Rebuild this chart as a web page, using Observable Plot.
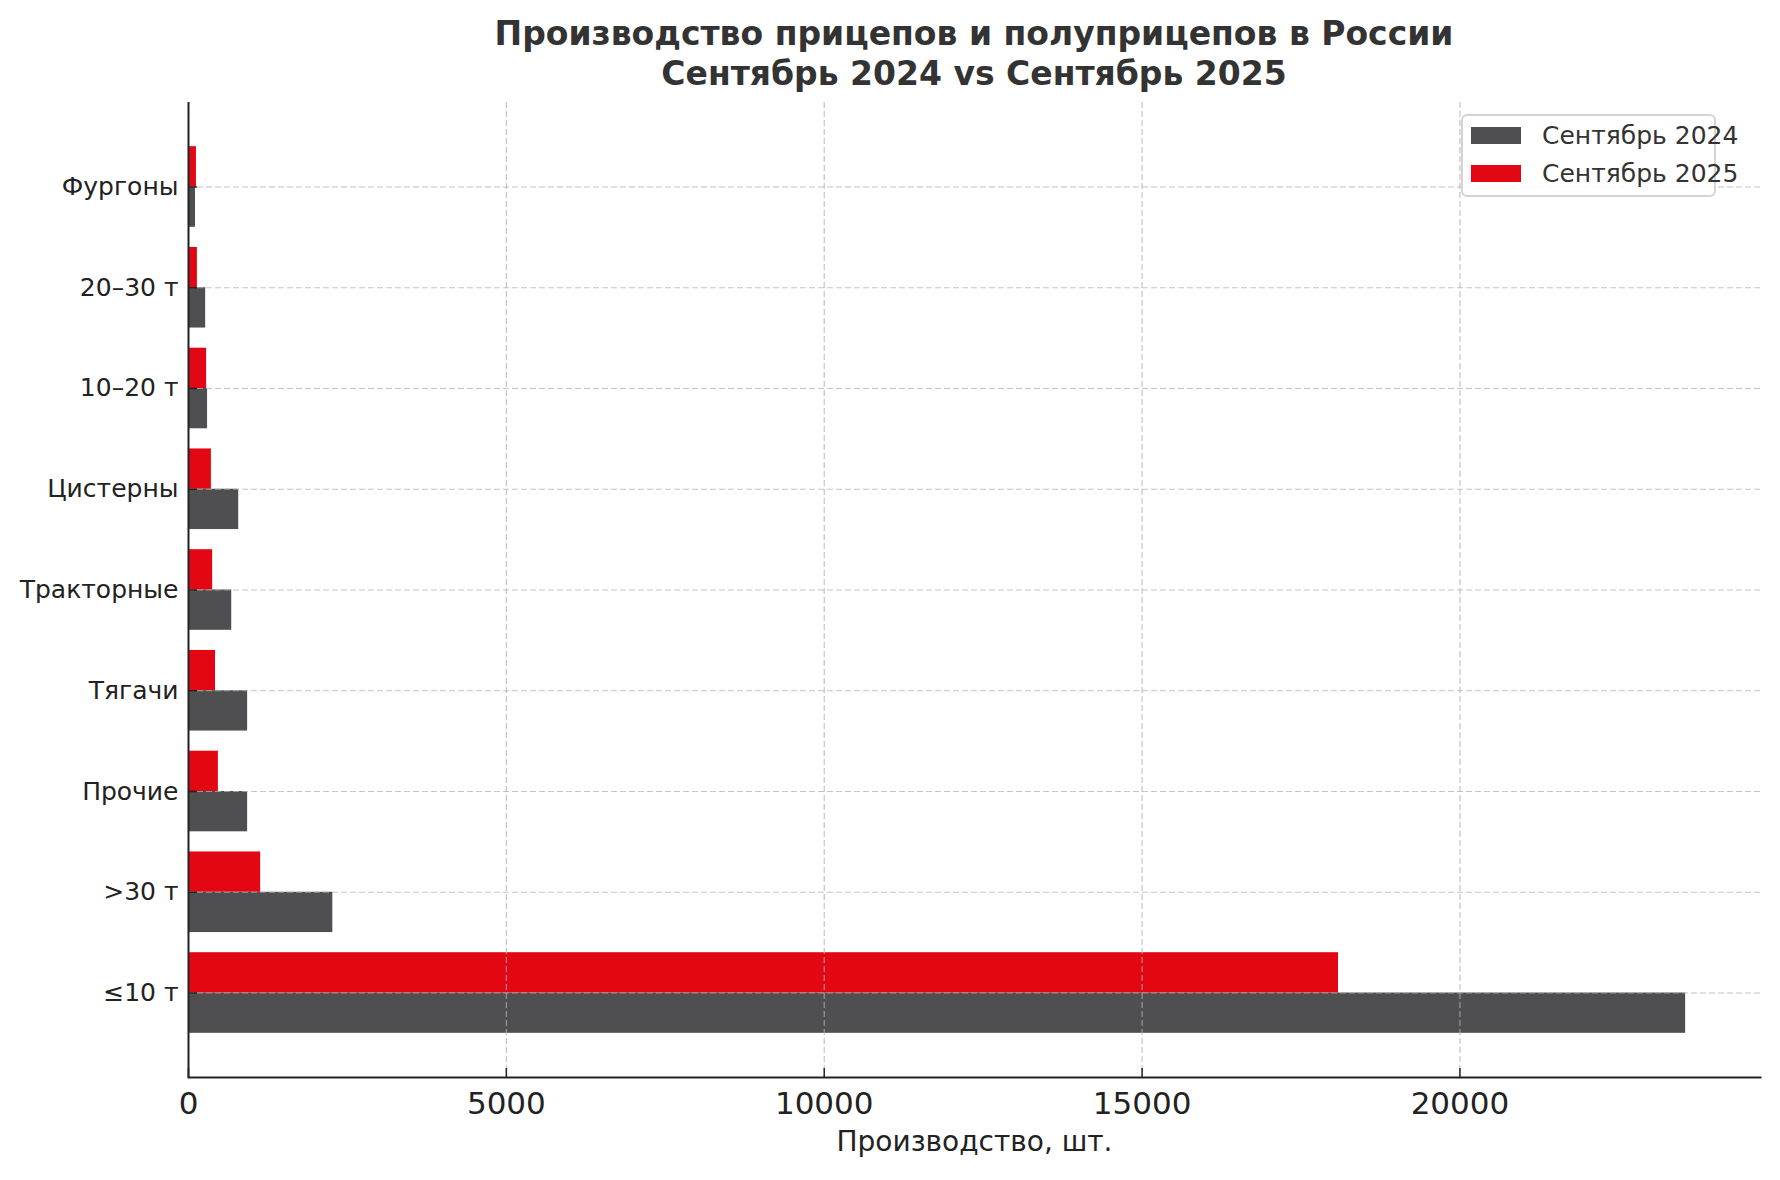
<!DOCTYPE html>
<html>
<head>
<meta charset="utf-8">
<script src="https://cdn.jsdelivr.net/npm/d3@7"></script>
<script src="https://cdn.jsdelivr.net/npm/@observablehq/plot@0.6"></script>
<style>
  body { margin: 0; background: #fff; font-family: "DejaVu Sans", sans-serif; }
  #wrap { position: relative; width: 1780px; height: 1180px; overflow: hidden; }
  #title { height: 100px; box-sizing: border-box; padding-top: 14px; padding-left: 188px; width: 1760px;
           text-align: center; font-weight: bold; font-size: 33px; line-height: 40px; color: #333; }
  #title div { white-space: nowrap; }
  #legend { position: absolute; left: 1461px; top: 114px; width: 255px; height: 83px; box-sizing: border-box;
            border: 2px solid #d4d4d4; border-radius: 6px; background: rgba(255,255,255,0.85); }
  .sw { position: absolute; left: 8px; width: 50px; height: 17px; }
  .lt { position: absolute; left: 79px; font-size: 25px; line-height: 25px; color: #333; white-space: nowrap; }
  svg { display: block; }
</style>
</head>
<body>
<div id="wrap">
  <div id="title"></div>
  <div id="chart"></div>
  <div id="legend"></div>
</div>
<script>
const titleLines = ["Производство прицепов и полуприцепов в России", "Сентябрь 2024 vs Сентябрь 2025"];
const categories = ["Фургоны", "20–30 т", "10–20 т", "Цистерны", "Тракторные", "Тягачи", "Прочие", ">30 т", "≤10 т"];
const sep2024 = [110, 270, 300, 790, 680, 930, 930, 2270, 23550];
const sep2025 = [125, 140, 285, 360, 380, 425, 470, 1135, 18090];
const seriesNames = ["Сентябрь 2024", "Сентябрь 2025"];
const seriesColors = ["#4f4f51", "#e30613"];
const xTicks = [0, 5000, 10000, 15000, 20000];
const xLabel = "Производство, шт.";

document.getElementById("title").innerHTML = titleLines.map(t => `<div>${t}</div>`).join("");

const W = 1780, H = 1080, mT = 2, mB = 103, mL = 188, mR = 20;
const plotH = H - mT - mB, plotW = W - mL - mR;
const padIn = 0.2, padOut = 0.4385;
const step = plotH / (categories.length - padIn + 2 * padOut);
const half = step * (1 - padIn) / 2;

const rows24 = categories.map((c, i) => ({cat: c, value: sep2024[i]}));
const rows25 = categories.map((c, i) => ({cat: c, value: sep2025[i]}));

const gridStyle = {stroke: "#b0b0b0", strokeOpacity: 0.75, strokeDasharray: "6,3", strokeWidth: 1.2};

const chart = Plot.plot({
  width: W, height: H,
  marginTop: mT, marginBottom: mB, marginLeft: mL, marginRight: mR,
  style: {fontFamily: "DejaVu Sans", fontSize: "25px", color: "#222", background: "#fff"},
  x: {domain: [0, d3.max(sep2024) * 1.05]},
  y: {type: "band", domain: categories, paddingInner: padIn, paddingOuter: padOut, round: false},
  marks: [
    Plot.barX(rows24, {x: "value", y: "cat", fill: seriesColors[0], insetTop: half}),
    Plot.barX(rows25, {x: "value", y: "cat", fill: seriesColors[1], insetBottom: half}),
    Plot.gridX(xTicks, gridStyle),
    Plot.gridY(categories, gridStyle),
    Plot.axisX(xTicks, {tickSize: 0, tickPadding: 14, fontSize: 31, tickFormat: d3.format("d"), label: null}),
    Plot.axisY(categories, {tickSize: 0, tickPadding: 10, fontSize: 25, label: null}),
    Plot.ruleX(xTicks, {x: d => d, insetTop: plotH - 9, stroke: "#222", strokeWidth: 1.5}),
    Plot.gridY(categories, {stroke: "#222", strokeOpacity: 1, strokeWidth: 1.5, insetRight: plotW - 9}),
    Plot.ruleX([0], {stroke: "#222", strokeWidth: 2}),
    Plot.frame({anchor: "bottom", stroke: "#222", strokeWidth: 2}),
    Plot.text([xLabel], {frameAnchor: "bottom", dy: 73, text: d => d, fontSize: 28, fill: "#222"})
  ]
});
document.getElementById("chart").appendChild(chart);

const legend = document.getElementById("legend");
const swTops = [11, 49];
legend.innerHTML = seriesNames.map((name, i) =>
  `<div class="sw" style="top:${swTops[i]}px;background:${seriesColors[i]}"></div>` +
  `<div class="lt" style="top:${swTops[i] - 4}px">${name}</div>`).join("");
</script>
</body>
</html>
